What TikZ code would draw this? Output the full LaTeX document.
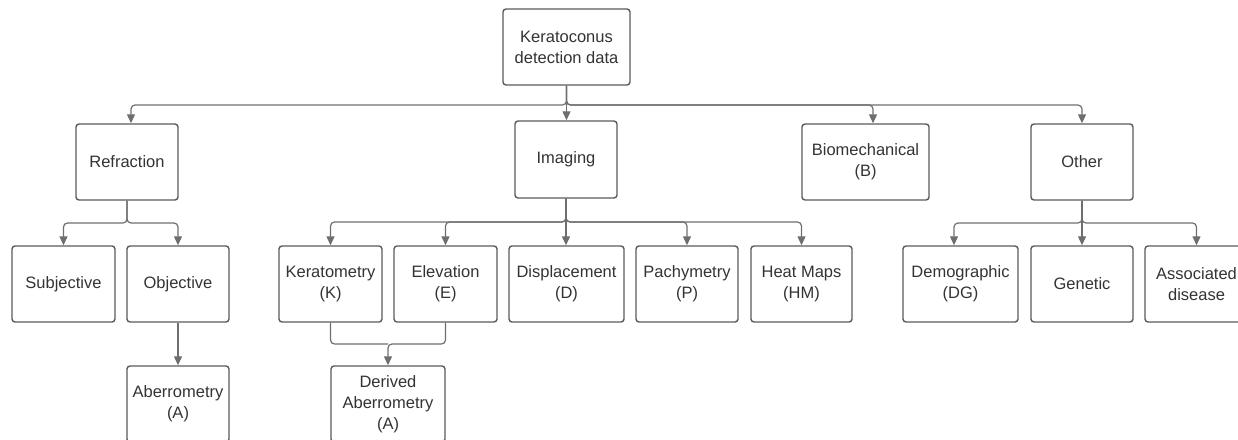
\documentclass[tikz,border=0pt]{standalone}
\usepackage{fontspec}
\setmainfont{Liberation Sans}
\usetikzlibrary{arrows.meta}
\definecolor{boxc}{HTML}{5A5A5A}
\definecolor{linec}{HTML}{6E6E6E}
\definecolor{txt}{HTML}{333333}
\begin{document}
\begin{tikzpicture}[x=1pt,y=-1pt,
  box/.style={draw=boxc, line width=1.4pt, rounded corners=3pt, align=center,
    inner sep=0pt, text=txt, font=\fontsize{16.5}{21}\selectfont, minimum height=76pt},
  conn/.style={draw=linec, line width=1.2pt, rounded corners=4pt,
    -{Triangle[length=9pt,width=8pt]}},
  plainline/.style={draw=linec, line width=1.2pt, rounded corners=4pt}]
\useasboundingbox (0,0) rectangle (1238,439);
\clip (0,0) rectangle (1238,439);

% nodes
\node[box, minimum width=127pt] (top) at (566.5,47) {Keratoconus\\detection data};
\node[box, minimum width=102pt] (refr) at (127,162) {Refraction};
\node[box, minimum width=102pt, minimum height=77pt] (imag) at (566,159.5) {Imaging};
\node[box, minimum width=127pt] (bio) at (865.5,162) {Biomechanical\\(B)};
\node[box, minimum width=102pt] (other) at (1082,162) {Other};

\node[box, minimum width=103pt] (subj) at (63.5,284) {Subjective};
\node[box, minimum width=102pt] (obj) at (178,284) {Objective};
\node[box, minimum width=102pt] (aber) at (178,404) {Aberrometry\\(A)};

\node[box, minimum width=103pt] (kera) at (330.5,284) {Keratometry\\(K)};
\node[box, minimum width=103pt] (elev) at (445.5,284) {Elevation\\(E)};
\node[box, minimum width=115pt] (disp) at (566.5,284) {Displacement\\(D)};
\node[box, minimum width=102pt] (pach) at (687,284) {Pachymetry\\(P)};
\node[box, minimum width=101pt] (heat) at (801.5,284) {Heat Maps\\(HM)};
\node[box, minimum width=114pt] (deriv) at (388,404) {Derived\\Aberrometry\\(A)};

\node[box, minimum width=115pt] (demo) at (960.5,284) {Demographic\\(DG)};
\node[box, minimum width=102pt] (gen) at (1082,284) {Genetic};
\node[box, minimum width=103pt] (assoc) at (1196.5,284) {Associated\\disease};

% junction coordinates
\coordinate (j0) at (566.5,105);
\coordinate (jr) at (127,223);
\coordinate (ji) at (566,222);
\coordinate (jo) at (1082,223);
\coordinate (jk) at (388,344);

% top level
\draw[conn] (top.south) -- (top.south |- j0) -| ([xshift=4pt]refr.north);
\draw[conn] (top.south) -- (top.south |- imag.north);
\draw[conn] (top.south) -- (top.south |- j0) -| ([xshift=7.5pt]bio.north);
\draw[conn] (top.south) -- (top.south |- j0) -| (other.north);

% refraction
\draw[conn] (refr.south) -- (refr.south |- jr) -| (subj.north);
\draw[conn] (refr.south) -- (refr.south |- jr) -| (obj.north);
\draw[conn] (obj.south) -- (aber.north);

% imaging
\draw[conn] (imag.south) -- (imag.south |- ji) -| (kera.north);
\draw[conn] (imag.south) -- (imag.south |- ji) -| (elev.north);
\draw[conn] (imag.south) -- (imag.south |- disp.north);
\draw[conn] (imag.south) -- (imag.south |- ji) -| (pach.north);
\draw[conn] (imag.south) -- (imag.south |- ji) -| (heat.north);
\draw[plainline] (kera.south) |- (jk);
\draw[conn] (elev.south) |- (jk) -- (deriv.north);

% other
\draw[conn] (other.south) -- (other.south |- jo) -| ([xshift=-6.5pt]demo.north);
\draw[conn] (other.south) -- (gen.north);
\draw[conn] (other.south) -- (other.south |- jo) -| (assoc.north);
\end{tikzpicture}
\end{document}
